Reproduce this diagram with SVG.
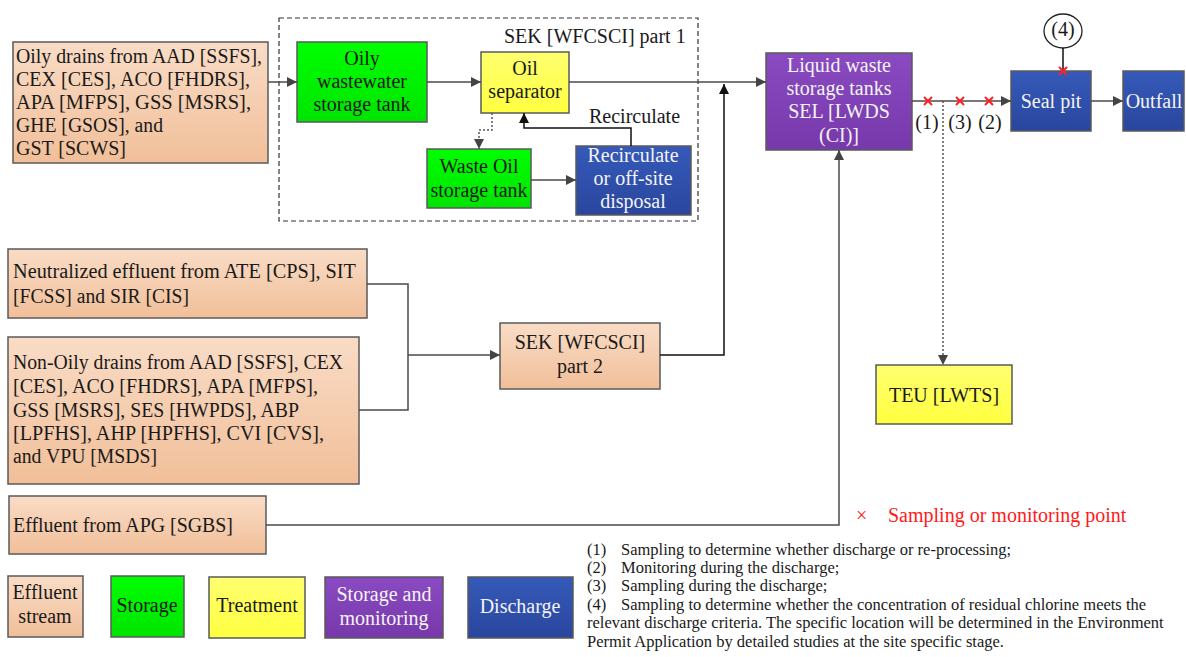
<svg xmlns="http://www.w3.org/2000/svg" width="1186" height="657" viewBox="0 0 1186 657" font-family="'Liberation Serif', 'Times New Roman', serif">
<defs>
<linearGradient id="gPeach" x1="0" y1="0" x2="0" y2="1"><stop offset="0" stop-color="#f9dcc6"/><stop offset="1" stop-color="#f1bf99"/></linearGradient>
<linearGradient id="gGreen" x1="0" y1="0" x2="0" y2="1"><stop offset="0" stop-color="#00ff00"/><stop offset="1" stop-color="#00e400"/></linearGradient>
<linearGradient id="gYellow" x1="0" y1="0" x2="0" y2="1"><stop offset="0" stop-color="#ffff70"/><stop offset="1" stop-color="#ffff40"/></linearGradient>
<linearGradient id="gPurple" x1="0" y1="0" x2="0" y2="1"><stop offset="0" stop-color="#8a4bc2"/><stop offset="1" stop-color="#7638aa"/></linearGradient>
<linearGradient id="gBlue" x1="0" y1="0" x2="0" y2="1"><stop offset="0" stop-color="#355ab9"/><stop offset="1" stop-color="#2a469e"/></linearGradient>
<marker id="arr" viewBox="0 0 10 10" refX="10" refY="5" markerWidth="10" markerHeight="10" markerUnits="userSpaceOnUse" orient="auto"><path d="M0,0 L10,5 L0,10 Z" fill="#444"/></marker>
<marker id="arrK" viewBox="0 0 10 10" refX="10" refY="5" markerWidth="10" markerHeight="10" markerUnits="userSpaceOnUse" orient="auto"><path d="M0,0 L10,5 L0,10 Z" fill="#111"/></marker>
</defs>
<style>
text{font-family:"Liberation Serif","Times New Roman",serif;font-size:20px;fill:#1a1a1a}
.c{text-anchor:middle}
.w{fill:#f4f4f4}
.box{stroke:#5a5a5a;stroke-width:1.5}
.peach{fill:url(#gPeach)}
.green{fill:url(#gGreen)}
.yellow{fill:url(#gYellow)}
.purple{fill:url(#gPurple)}
.blue{fill:url(#gBlue)}
.ln{fill:none;stroke:#4a4a4a;stroke-width:1.5}
.lk{fill:none;stroke:#111;stroke-width:1.5}
.dot{fill:none;stroke:#555;stroke-width:1.5;stroke-dasharray:2,2}
.xm{stroke:#ff2020;stroke-width:2;fill:none}
.note{font-size:16.5px}
.red{fill:#ff1a1a}
</style>

<g id="part1-frame">
<rect x="279" y="18" width="419" height="203" fill="none" stroke="#333" stroke-width="1.2" stroke-dasharray="5,3"/>
<text x="504" y="43">SEK [WFCSCI] part 1</text>
</g>

<g id="oily-drains">
<rect class="box peach" x="13" y="42" width="255" height="121"/>
<text x="16" y="63" textLength="246" lengthAdjust="spacingAndGlyphs">Oily drains from AAD [SSFS],</text>
<text x="16" y="86" textLength="234" lengthAdjust="spacingAndGlyphs">CEX [CES], ACO [FHDRS],</text>
<text x="16" y="109" textLength="235" lengthAdjust="spacingAndGlyphs">APA [MFPS],  GSS [MSRS],</text>
<text x="16" y="132" textLength="147" lengthAdjust="spacingAndGlyphs">GHE [GSOS], and</text>
<text x="16" y="155" textLength="110" lengthAdjust="spacingAndGlyphs">GST [SCWS]</text>
</g>

<g id="oily-tank">
<rect class="box green" x="297" y="42" width="130" height="80"/>
<text class="c" x="362" y="65">Oily</text>
<text class="c" x="362" y="88">wastewater</text>
<text class="c" x="362" y="111">storage tank</text>
</g>

<g id="oil-separator">
<rect class="box yellow" x="481" y="52" width="88" height="61"/>
<text class="c" x="525" y="75">Oil</text>
<text class="c" x="525" y="98">separator</text>
</g>

<g id="waste-oil-tank">
<rect class="box green" x="427" y="149" width="104" height="59"/>
<text class="c" x="479" y="173">Waste Oil</text>
<text class="c" x="479" y="197">storage tank</text>
</g>

<g id="recirculate-box">
<rect class="box blue" x="576" y="146" width="115" height="69"/>
<text class="c w" x="633" y="162">Recirculate</text>
<text class="c w" x="633" y="185">or off-site</text>
<text class="c w" x="633" y="208">disposal</text>
</g>

<g id="liquid-waste">
<rect class="box purple" x="766" y="53" width="146" height="97"/>
<text class="c w" x="839" y="72">Liquid waste</text>
<text class="c w" x="839" y="95">storage tanks</text>
<text class="c w" x="839" y="118">SEL [LWDS</text>
<text class="c w" x="839" y="142">(CI)]</text>
</g>

<g id="seal-pit">
<rect class="box blue" x="1011" y="71" width="80" height="60"/>
<text class="c w" x="1051" y="108">Seal pit</text>
</g>

<g id="outfall">
<rect class="box blue" x="1123" y="71" width="61" height="60"/>
<text class="c w" x="1154" y="108">Outfall</text>
</g>

<g id="point4">
<ellipse cx="1063" cy="31" rx="19" ry="17" fill="#fff" stroke="#222" stroke-width="1.3"/>
<text class="c" x="1063" y="36">(4)</text>
</g>

<g id="neutralized">
<rect class="box peach" x="8" y="249" width="359" height="69"/>
<text x="13" y="278" textLength="343" lengthAdjust="spacingAndGlyphs">Neutralized effluent from  ATE [CPS], SIT</text>
<text x="13" y="303" textLength="176" lengthAdjust="spacingAndGlyphs">[FCSS] and SIR [CIS]</text>
</g>

<g id="non-oily">
<rect class="box peach" x="8" y="337" width="351" height="147"/>
<text x="13" y="369" textLength="330" lengthAdjust="spacingAndGlyphs">Non-Oily drains from AAD [SSFS], CEX</text>
<text x="13" y="393" textLength="305" lengthAdjust="spacingAndGlyphs">[CES], ACO [FHDRS], APA [MFPS],</text>
<text x="13" y="417" textLength="286" lengthAdjust="spacingAndGlyphs">GSS [MSRS], SES [HWPDS], ABP</text>
<text x="13" y="440" textLength="311" lengthAdjust="spacingAndGlyphs">[LPFHS],  AHP [HPFHS], CVI [CVS],</text>
<text x="13" y="463" textLength="144" lengthAdjust="spacingAndGlyphs">and VPU [MSDS]</text>
</g>

<g id="sek-part2">
<rect class="box peach" x="500" y="323" width="160" height="66"/>
<text class="c" x="580" y="349">SEK [WFCSCI]</text>
<text class="c" x="580" y="373">part 2</text>
</g>

<g id="apg">
<rect class="box peach" x="9" y="496" width="257" height="58"/>
<text x="13" y="532" textLength="220" lengthAdjust="spacingAndGlyphs">Effluent from APG [SGBS]</text>
</g>

<g id="teu">
<rect class="box yellow" x="876" y="365" width="136" height="59"/>
<text class="c" x="944" y="402">TEU [LWTS]</text>
</g>

<g id="connectors">
<path class="ln" d="M268,82 H297" marker-end="url(#arr)"/>
<path class="ln" d="M427,82 H481" marker-end="url(#arr)"/>
<path class="ln" d="M569,82 H766" marker-end="url(#arr)"/>
<path class="dot" d="M492,113 V130 H479 V149" marker-end="url(#arr)"/>
<path class="ln" d="M531,180 H576" marker-end="url(#arr)"/>
<path class="lk" d="M631,146 V128 H524 V113" marker-end="url(#arrK)"/>
<path class="ln" d="M367,284 H408 V410 H359"/>
<path class="ln" d="M408,355 H500" marker-end="url(#arr)"/>
<path class="lk" d="M660,355 H724 V84" marker-end="url(#arrK)"/>
<path class="ln" d="M266,525 H839 V150" marker-end="url(#arr)"/>
<path class="ln" d="M912,101 H1011" marker-end="url(#arr)"/>
<path class="ln" d="M1091,101 H1123" marker-end="url(#arr)"/>
<path class="dot" d="M943,101 V365" marker-end="url(#arr)"/>
<path class="lk" d="M1063,48 V71"/>
<path class="xm" d="M924,97 l8,8 M932,97 l-8,8"/>
<path class="xm" d="M956,97 l8,8 M964,97 l-8,8"/>
<path class="xm" d="M985,97 l8,8 M993,97 l-8,8"/>
<path class="xm" d="M1059,67 l8,8 M1067,67 l-8,8"/>
</g>

<g id="labels">
<text x="589" y="123">Recirculate</text>
<text class="c" x="927" y="129">(1)</text>
<text class="c" x="960" y="129">(3)</text>
<text class="c" x="990" y="129">(2)</text>
</g>

<g id="legend">
<rect class="box peach" x="8" y="576" width="75" height="61"/>
<text class="c" x="45" y="599">Effluent</text>
<text class="c" x="45" y="623">stream</text>
<rect class="box green" x="111" y="576" width="73" height="61"/>
<text class="c" x="147" y="612">Storage</text>
<rect class="box yellow" x="209" y="577" width="96" height="61"/>
<text class="c" x="257" y="612">Treatment</text>
<rect class="box purple" x="325" y="577" width="118" height="61"/>
<text class="c w" x="384" y="601">Storage and</text>
<text class="c w" x="384" y="625">monitoring</text>
<rect class="box blue" x="468" y="577" width="105" height="61"/>
<text class="c w" x="520" y="613">Discharge</text>
<text class="red" x="856" y="522">×</text>
<text class="red" x="888" y="522">Sampling or monitoring point</text>
</g>

<g id="notes">
<text class="note" x="587" y="555">(1)<tspan x="621">Sampling to determine whether discharge or re-processing;</tspan></text>
<text class="note" x="587" y="573">(2)<tspan x="621">Monitoring during the discharge;</tspan></text>
<text class="note" x="587" y="591">(3)<tspan x="621">Sampling during the discharge;</tspan></text>
<text class="note" x="587" y="610">(4)<tspan x="621">Sampling to determine whether the concentration of residual chlorine meets the</tspan></text>
<text class="note" x="587" y="628">relevant discharge criteria. The specific location will be determined in the Environment</text>
<text class="note" x="587" y="647">Permit Application by detailed studies at the site specific stage.</text>
</g>
</svg>
